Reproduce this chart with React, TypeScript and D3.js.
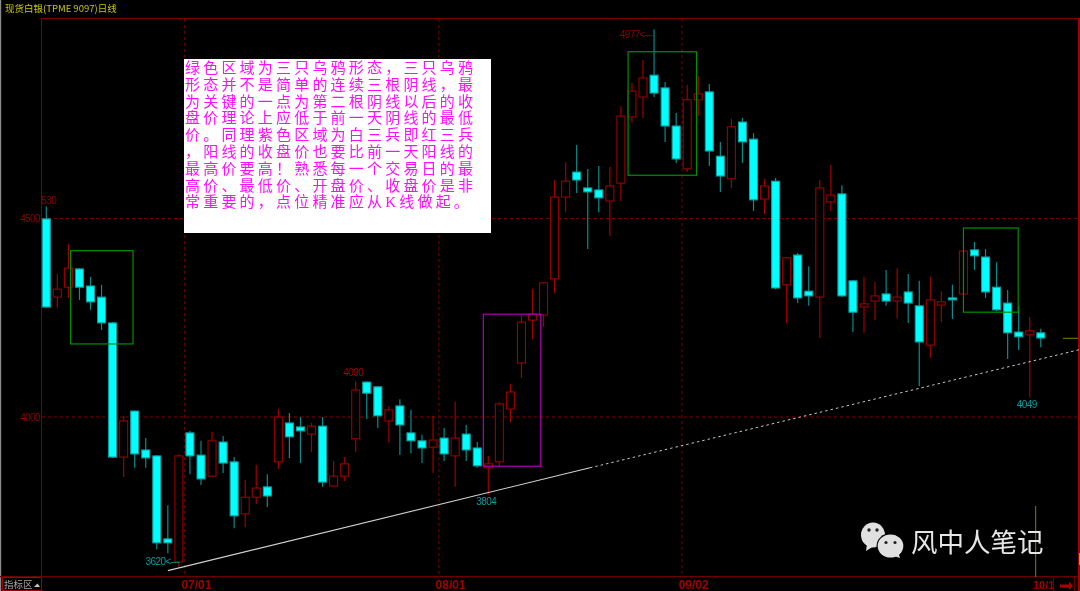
import React from "react";
import * as d3 from "d3";

const opens = [4499,4302,4327,4373,4330,4302,4237,3899,4015,3917,3902,3693,3635,3960,3904,3851,3937,3887,3756,3798,3824,3887,3985,3975,3957,3977,3826,3851,3945,4088,4076,3990,4028,3960,3940,3924,3947,3902,3957,3922,3872,3887,4020,4136,4244,4257,4348,4554,4617,4577,4572,4544,4589,4756,4806,4861,4829,4733,4625,4799,4819,4657,4600,4743,4700,4549,4594,4333,4408,4317,4302,4542,4562,4343,4277,4292,4310,4292,4315,4280,4181,4282,4300,4310,4421,4403,4327,4287,4214,4207,4212];
const highs = [4530,4360,4436,4375,4353,4333,4239,4003,4016,3947,3904,3778,3907,3965,3940,3962,3952,3899,3841,3879,3856,4020,4010,4000,3985,4000,3889,3899,4090,4090,4078,4028,4045,4018,3955,4003,3972,4038,3980,3937,3902,4038,4083,4257,4322,4340,4597,4642,4685,4625,4632,4630,4783,4841,4899,4977,4844,4766,4836,4859,4839,4693,4751,4753,4715,4600,4602,4403,4413,4380,4597,4635,4584,4345,4353,4340,4370,4375,4360,4343,4353,4317,4333,4420,4441,4423,4390,4320,4280,4252,4222];
const lows = [4275,4275,4300,4295,4270,4219,3897,3849,3872,3872,3667,3657,3620,3856,3829,3850,3859,3720,3723,3781,3773,3869,3897,3884,3912,3824,3824,3839,3912,3995,3972,3935,3904,3909,3884,3859,3889,3824,3889,3872,3804,3877,3987,4098,4196,4227,4312,4516,4564,4423,4516,4456,4544,4741,4753,4806,4693,4640,4617,4758,4632,4567,4577,4640,4519,4511,4322,4237,4287,4280,4199,4519,4302,4214,4212,4244,4280,4249,4237,4078,4149,4239,4247,4307,4370,4300,4267,4146,4169,4049,4176];
const closes = [4277,4322,4375,4327,4290,4237,3899,3990,3907,3897,3683,3683,3902,3902,3844,3940,3884,3751,3798,3821,3801,4000,3950,3965,3977,3836,3851,3882,4068,4060,4003,4018,3980,3940,3922,3942,3907,3947,3917,3877,3882,4033,4063,4239,4259,4338,4554,4594,4597,4567,4552,4582,4758,4821,4854,4816,4733,4650,4799,4814,4670,4607,4731,4693,4547,4582,4325,4401,4300,4305,4577,4559,4305,4264,4285,4305,4292,4302,4287,4189,4295,4290,4295,4418,4406,4315,4270,4212,4202,4217,4199];

const priceTicks = [4500, 4000];
const dateTicks = [
  { label: "07/01", index: 12.5 },
  { label: "08/01", index: 35.5 },
  { label: "09/02", index: 57.5 },
];
const trendSolid = [{ i: 11, p: 3613 }, { i: 49.2, p: 3872 }];
const trendDashed = [{ i: 49.2, p: 3872 }, { i: 93.55, p: 4170 }];
const greenBoxes = [
  { i0: 2.2, i1: 7.85, top: 4419, bottom: 4184 },
  { i0: 52.65, i1: 58.85, top: 4920, bottom: 4609 },
  { i0: 83.0, i1: 87.95, top: 4476, bottom: 4264 },
];
const purpleBoxes = [{ i0: 39.55, i1: 44.75, top: 4259, bottom: 3876 }];
const noteLines = [
  "绿色区域为三只乌鸦形态，三只乌鸦",
  "形态并不是简单的连续三根阴线，最",
  "为关键的一点为第二根阴线以后的收",
  "盘价理论上应低于前一天阴线的最低",
  "价。同理紫色区域为白三兵即红三兵",
  "，阳线的收盘价也要比前一天阳线的",
  "最高价要高！熟悉每一个交易日的最",
  "高价、最低价、开盘价、收盘价是非",
  "常重要的，点位精准应从K线做起。",
];
const extremes = [
  { text: "530", i: 0, p: 4530, dx: -5, dy: -3, anchor: "start", color: "#8a0000" },
  { text: "4090", i: 28, p: 4090, dx: -2.5, dy: -5, anchor: "middle", color: "#a00000" },
  { text: "4977<---", i: 55, p: 4977, dx: -1, dy: 9, anchor: "end", color: "#8a0000" },
  { text: "3620<---", i: 12, p: 3620, dx: 0, dy: -3, anchor: "end", color: "#0a9a9a" },
  { text: "3804", i: 40, p: 3804, dx: -2, dy: 10, anchor: "middle", color: "#0a9a9a" },
  { text: "4049", i: 89, p: 4049, dx: -3, dy: 10, anchor: "middle", color: "#0a9a9a" },
];

const W = 1080;
const H = 591;
const RED = "#7c0000";
const x = d3.scaleLinear().domain([0, 90]).range([46.3, 1040.8]);
const y = d3.scaleLinear().domain([4000, 4500]).range([417, 218.5]);
const line = d3.line<{ i: number; p: number }>().x((d) => x(d.i)).y((d) => y(d.p));

export default function App() {
  const bodyW = 8;
  const cjk = "'Noto Sans CJK SC', sans-serif";
  const small = "'Liberation Sans', Arial, sans-serif";
  return (
    <svg
      width={W}
      height={H}
      viewBox={`0 0 ${W} ${H}`}
      style={{ position: "absolute", left: 0, top: 0, background: "#000", display: "block" }}
    >
      <defs>
        <filter id="soft" x="0" y="0" width="100%" height="100%">
          <feGaussianBlur stdDeviation="0.35" />
        </filter>
      </defs>
      <rect x={0} y={0} width={W} height={H} fill="#000" />
      <g filter="url(#soft)">
        <rect x={0} y={0} width={1.2} height={H} fill="#8a8a8a" />

        <text x={5} y={11.5} fontFamily={cjk} fontSize={9.5} fill="#c8c800">现货白银(TPME 9097)日线</text>

        {/* frame */}
        <line x1={41.5} x2={41.5} y1={18} y2={590} stroke={RED} strokeWidth={1} />
        <line x1={41} x2={1078} y1={18.5} y2={18.5} stroke={RED} strokeWidth={1} />
        <line x1={0} x2={1078} y1={576.6} y2={576.6} stroke="#6a0000" strokeWidth={1.2} />
        <rect x={1078} y={18} width={2} height={573} fill="#a00000" />

        {/* grid */}
        {priceTicks.map((t) => (
          <g key={t}>
            <line x1={42} x2={1078} y1={y(t)} y2={y(t)} stroke={RED} strokeWidth={1} strokeDasharray="3 3" />
            <text x={40} y={y(t) + 3.5} textAnchor="end" fontFamily={small} fontSize={10} letterSpacing={-0.6} fill="#8f0000">{t}</text>
          </g>
        ))}
        {dateTicks.map((d) => (
          <g key={d.label}>
            <line x1={x(d.index) + 0.3} x2={x(d.index) + 0.3} y1={19} y2={576} stroke={RED} strokeWidth={1} strokeDasharray="3 3" />
            <text x={x(d.index) - 3} y={589} fontFamily={small} fontSize={12} fontWeight={700} fill="#a00000">{d.label}</text>
          </g>
        ))}

        {/* candles */}
        {opens.map((o, i) => {
          const c = closes[i];
          const up = c >= o;
          const top = y(Math.max(o, c));
          const bottom = y(Math.min(o, c));
          const cx = x(i);
          return (
            <g key={i}>
              <line x1={cx} x2={cx} y1={y(highs[i])} y2={y(lows[i])} stroke={up ? "#a00000" : "#0a8c8c"} strokeWidth={1.2} />
              <rect
                x={cx - bodyW / 2}
                y={top}
                width={bodyW}
                height={Math.max(bottom - top, 1)}
                fill={up ? "#000" : "#00ffff"}
                stroke={up ? "#9a0000" : "#0aa0a0"}
                strokeWidth={1.1}
              />
            </g>
          );
        })}

        {/* trend lines */}
        <path d={line(trendSolid) ?? ""} fill="none" stroke="#d0d0d0" strokeWidth={1.1} />
        <path d={line(trendDashed) ?? ""} fill="none" stroke="#c8c8c8" strokeWidth={1} strokeDasharray="2.5 3" />

        {/* pattern boxes */}
        {greenBoxes.map((b, k) => (
          <rect key={k} x={x(b.i0)} y={y(b.top)} width={x(b.i1) - x(b.i0)} height={y(b.bottom) - y(b.top)} fill="none" stroke="#009000" strokeWidth={1.2} />
        ))}
        {purpleBoxes.map((b, k) => (
          <rect key={k} x={x(b.i0)} y={y(b.top)} width={x(b.i1) - x(b.i0)} height={y(b.bottom) - y(b.top)} fill="none" stroke="#b000b0" strokeWidth={1.2} />
        ))}

        {/* extreme labels */}
        {extremes.map((e) => (
          <text
            key={e.text}
            x={x(e.i) + e.dx}
            y={y(e.p) + e.dy}
            textAnchor={e.anchor as "start" | "middle" | "end"}
            fontFamily={small}
            fontSize={10}
            letterSpacing={-0.6}
            fill={e.color}
          >
            {e.text}
          </text>
        ))}

        {/* note */}
        <rect x={184} y={59} width={307} height={174} fill="#fff" />
        <text fontFamily="'Liberation Serif', 'Noto Sans CJK SC', serif" fontSize={15} letterSpacing={3.2} fill="#ff10ff">
          {noteLines.map((t, i) => (
            <tspan key={i} x={185} y={73 + i * 16.8}>{t}</tspan>
          ))}
        </text>

        {/* bottom left tab */}
        <rect x={2.5} y={577.5} width={39} height={13} fill="none" stroke="#a00000" strokeWidth={1} />
        <text x={4} y={588} fontFamily={cjk} fontSize={9.5} fill="#a8a8a8">指标区</text>
        <path d="M34 587 L37.5 583.5 L40 587 Z" fill="#c8c8c8" />

        {/* bottom right */}
        <text x={1033} y={589} fontFamily={small} fontSize={11} fontWeight={700} fill="#a00000">10/1</text>
        <line x1={1053.5} x2={1053.5} y1={577} y2={591} stroke="#6a0000" />
        <line x1={1074.5} x2={1074.5} y1={577} y2={591} stroke="#6a0000" />
        <path d="M1060 584.5 H1069 V581.5 L1073 586 L1069 590 V587.5 H1060 Z" fill="#b00000" />
        <line x1={1035.7} x2={1035.7} y1={506} y2={577} stroke="#808000" strokeWidth={1} />
        <line x1={1063} x2={1078} y1={338.3} y2={338.3} stroke="#808000" strokeWidth={1} />
        <rect x={1079} y={553} width={1} height={12} fill="#b0a000" />

        {/* watermark */}
        <ellipse cx={873} cy={535} rx={12} ry={12.5} fill="#e0e0e0" />
        <path d="M867 544 L866 551 L874 546 Z" fill="#e0e0e0" />
        <ellipse cx={890.5} cy={546} rx={14} ry={12.8} fill="#000" />
        <ellipse cx={890.5} cy={546} rx={12.8} ry={11.6} fill="#e0e0e0" />
        <path d="M894 556 L900 558 L898 552 Z" fill="#e0e0e0" />
        <circle cx={869} cy={530} r={1.7} fill="#222" />
        <circle cx={877} cy={530} r={1.7} fill="#222" />
        <circle cx={886} cy={542.5} r={1.6} fill="#222" />
        <circle cx={895} cy={542.5} r={1.6} fill="#222" />
        <text x={911} y={552} fontFamily={cjk} fontSize={26.5} fill="#e6e6e6">风中人笔记</text>
      </g>
    </svg>
  );
}
